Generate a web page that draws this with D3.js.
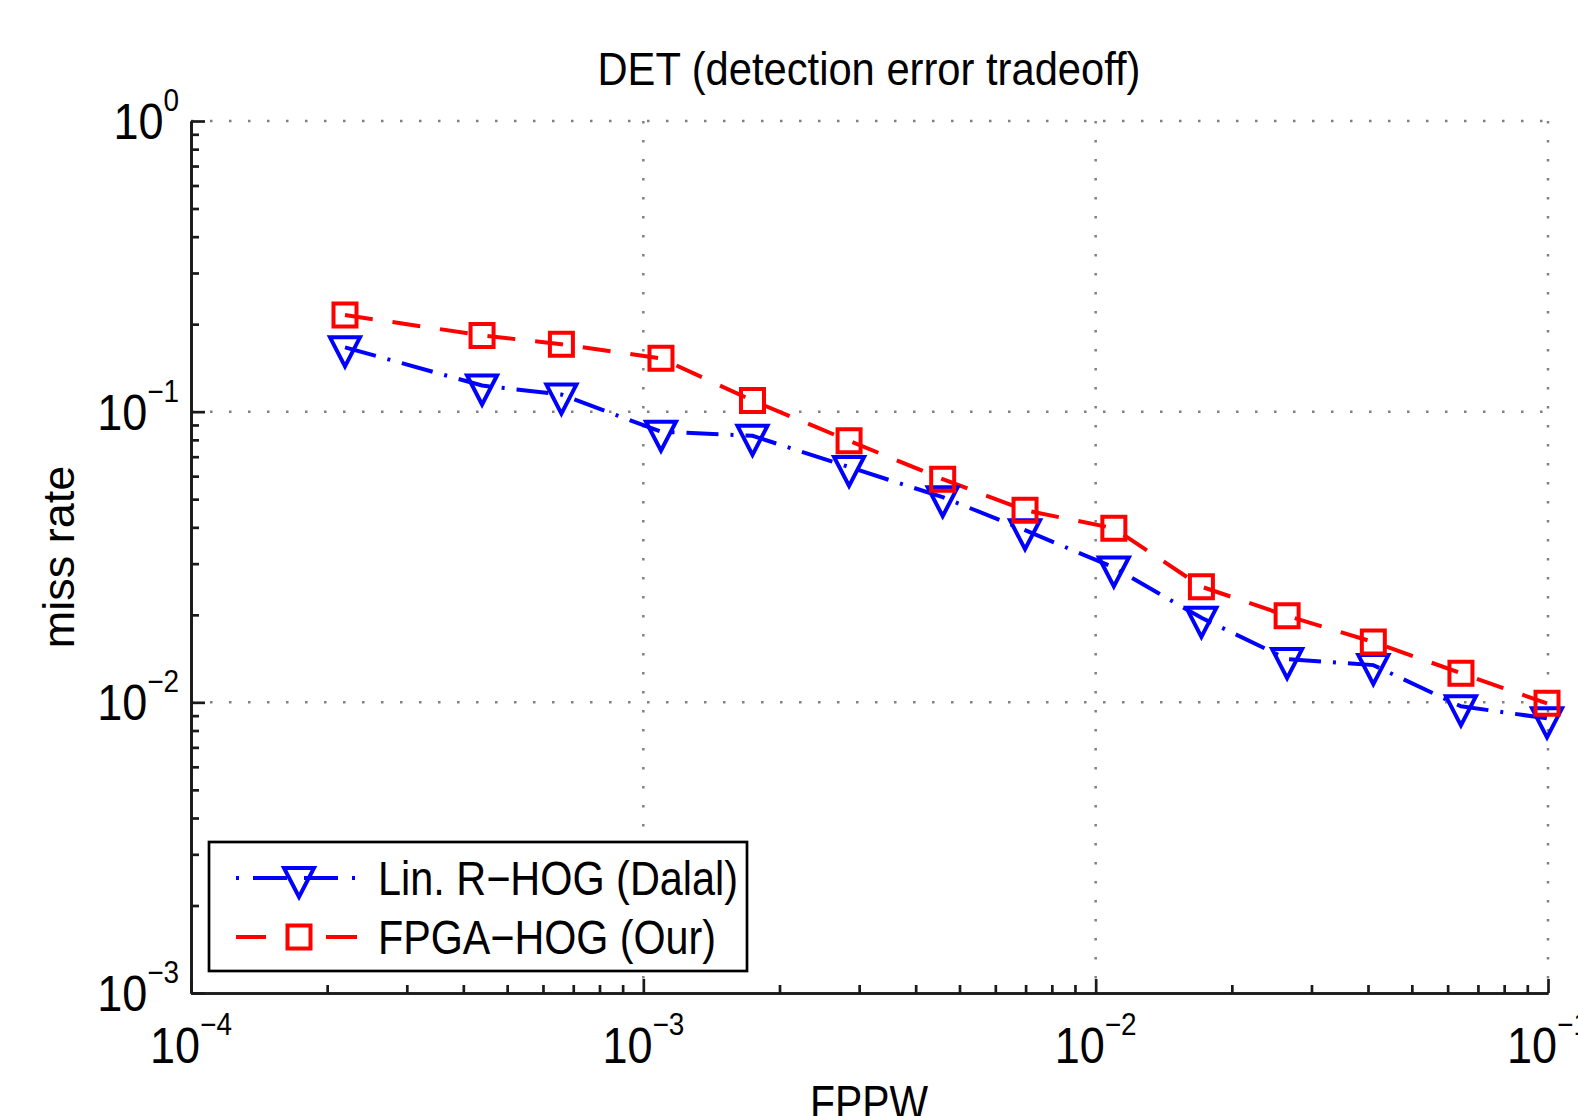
<!DOCTYPE html>
<html lang="en">
    <head>
        <meta charset="utf-8">
        <title>DET</title>
        <script src="https://d3js.org/d3.v7.min.js"></script>
        <style type="text/css">
            body { margin: 0; background: #fff; }
            text { font-family: "Liberation Sans", Arial, Helvetica, sans-serif; fill: #000; }
        </style>
    </head>
    <body>
        <script>
            // data
            var fppw = [2.19e-4, 4.40e-4, 6.59e-4, 1.094e-3, 1.743e-3, 2.85e-3, 4.59e-3,
                        6.98e-3, 1.097e-2, 1.713e-2, 2.65e-2, 4.11e-2, 6.42e-2, 0.0995];
            var missDalal = [0.1665, 0.123, 0.1145, 0.0853, 0.0826, 0.0645, 0.0508,
                             0.0391, 0.0291, 0.01953, 0.01409, 0.01343, 0.00969, 0.00881];
            var missOur = [0.215, 0.183, 0.1705, 0.1526, 0.1092, 0.0794, 0.0586,
                           0.0458, 0.0397, 0.0250, 0.01984, 0.01613, 0.0126, 0.00992];
            var xTickExp = [-4, -3, -2, -1];
            var yTickExp = [0, -1, -2, -3];
            var seriesNames = ["Lin. R\u2212HOG (Dalal)", "FPGA\u2212HOG (Our)"];

            // configuration
            var outerWidth = 1578;
            var outerHeight = 1116;
            var margin = { left: 191, top: 121, right: 30, bottom: 123 };
            var innerWidth = outerWidth - margin.left - margin.right;
            var innerHeight = outerHeight - margin.top - margin.bottom;
            var squeeze = 0.9;

            var svg = d3.select("body")
                        .append("svg")
                        .attr("width", outerWidth)
                        .attr("height", outerHeight);

            var g = svg.append("g")
                .attr("transform", "translate(" + margin.left + "," + margin.top + ")");

            var xScale = d3.scaleLog().domain([1e-4, 1e-1]).range([0, innerWidth]);
            var yScale = d3.scaleLog().domain([1e-3, 1]).range([innerHeight, 0]);

            var xMajor = xTickExp.map(function (e) { return Math.pow(10, e); });
            var yMajor = yTickExp.map(function (e) { return Math.pow(10, e); });

            // dotted grid at decades
            g.selectAll(".vgrid").data(xMajor.slice(1)).enter().append("line")
                .attr("x1", function (d) { return xScale(d); })
                .attr("x2", function (d) { return xScale(d); })
                .attr("y1", 0).attr("y2", innerHeight)
                .attr("stroke", "#808080").attr("stroke-width", 2.5)
                .attr("stroke-dasharray", "2.5,16.5");
            g.selectAll(".hgrid").data(yMajor.slice(0, 3)).enter().append("line")
                .attr("x1", 0).attr("x2", innerWidth)
                .attr("y1", function (d) { return yScale(d); })
                .attr("y2", function (d) { return yScale(d); })
                .attr("stroke", "#808080").attr("stroke-width", 2.5)
                .attr("stroke-dasharray", "2.5,16.5");

            // axes, ticks pointing inward
            var xMinor = xScale.ticks().filter(function (d) { return xMajor.indexOf(d) < 0; });
            var yMinor = yScale.ticks().filter(function (d) { return yMajor.indexOf(d) < 0; });

            function styleAxis(a) {
                a.selectAll("path, line").attr("stroke", "#1a1a1a").attr("stroke-width", 2.7);
                a.selectAll("text").remove();
            }

            g.append("g").attr("transform", "translate(0," + innerHeight + ")")
                .call(d3.axisBottom(xScale).tickValues(xMajor).tickSize(-14).tickSizeOuter(0))
                .call(styleAxis);
            g.append("g").attr("transform", "translate(0," + innerHeight + ")")
                .call(d3.axisBottom(xScale).tickValues(xMinor).tickSize(-8).tickSizeOuter(0))
                .call(styleAxis);
            g.append("g")
                .call(d3.axisLeft(yScale).tickValues(yMajor).tickSize(-14).tickSizeOuter(0))
                .call(styleAxis);
            g.append("g")
                .call(d3.axisLeft(yScale).tickValues(yMinor).tickSize(-8).tickSizeOuter(0))
                .call(styleAxis);

            // tick labels 10^n
            function powerLabel(parent, x, y, exp, anchor) {
                var t = parent.append("text")
                    .attr("transform", "translate(" + x + "," + y + ") scale(" + squeeze + ",1)")
                    .attr("text-anchor", anchor)
                    .style("font-size", "50px");
                t.append("tspan").text("10");
                t.append("tspan").attr("dy", -28).style("font-size", "31px")
                    .text(exp === 0 ? "0" : "\u2212" + Math.abs(exp));
            }
            xTickExp.forEach(function (e) {
                powerLabel(g, xScale(Math.pow(10, e)), innerHeight + 70, e, "middle");
            });
            yTickExp.forEach(function (e) {
                powerLabel(g, -12, yScale(Math.pow(10, e)) + 18, e, "end");
            });

            // title and axis labels
            svg.append("text")
                .attr("x", 869).attr("y", 85)
                .attr("text-anchor", "middle")
                .attr("textLength", 543).attr("lengthAdjust", "spacingAndGlyphs")
                .style("font-size", "46px")
                .text("DET (detection error tradeoff)");
            svg.append("text")
                .attr("x", 869).attr("y", 1119)
                .attr("text-anchor", "middle")
                .attr("textLength", 118).attr("lengthAdjust", "spacingAndGlyphs")
                .style("font-size", "48px")
                .text("FPPW");
            svg.append("text")
                .attr("transform", "translate(74,557) rotate(-90)")
                .attr("text-anchor", "middle")
                .style("font-size", "45px")
                .text("miss rate");

            // series
            var line = d3.line()
                .x(function (d) { return xScale(d[0]); })
                .y(function (d) { return yScale(d[1]); });

            var dalal = fppw.map(function (f, i) { return [f, missDalal[i]]; });
            var our = fppw.map(function (f, i) { return [f, missOur[i]]; });

            var triPath = "M-15,-10L15,-10L0,19Z";
            var sqPath = "M-11.5,-11.5H11.5V11.5H-11.5Z";

            g.append("path").datum(dalal).attr("d", line)
                .attr("fill", "none").attr("stroke", "#0000ff").attr("stroke-width", 4)
                .attr("stroke-dasharray", "32,12,3,12");
            g.append("path").datum(our).attr("d", line)
                .attr("fill", "none").attr("stroke", "#ff0000").attr("stroke-width", 4)
                .attr("stroke-dasharray", "28,20");

            g.selectAll(".tri").data(dalal).enter().append("path")
                .attr("transform", function (d) { return "translate(" + xScale(d[0]) + "," + yScale(d[1]) + ")"; })
                .attr("d", triPath)
                .attr("fill", "none").attr("stroke", "#0000ff").attr("stroke-width", 4);
            g.selectAll(".sq").data(our).enter().append("path")
                .attr("transform", function (d) { return "translate(" + xScale(d[0]) + "," + yScale(d[1]) + ")"; })
                .attr("d", sqPath)
                .attr("fill", "none").attr("stroke", "#ff0000").attr("stroke-width", 4);

            // legend
            var legend = svg.append("g");
            legend.append("rect")
                .attr("x", 209).attr("y", 842).attr("width", 538).attr("height", 129)
                .attr("fill", "#fff").attr("stroke", "#000").attr("stroke-width", 2.7);

            var rowY = [878, 937];
            legend.append("line")
                .attr("x1", 236).attr("x2", 357).attr("y1", rowY[0]).attr("y2", rowY[0])
                .attr("stroke", "#0000ff").attr("stroke-width", 4)
                .attr("stroke-dasharray", "3,14,34,17,34,14,3");
            legend.append("path")
                .attr("transform", "translate(299," + rowY[0] + ")")
                .attr("d", triPath)
                .attr("fill", "none").attr("stroke", "#0000ff").attr("stroke-width", 4);
            legend.append("line")
                .attr("x1", 236).attr("x2", 357).attr("y1", rowY[1]).attr("y2", rowY[1])
                .attr("stroke", "#ff0000").attr("stroke-width", 4)
                .attr("stroke-dasharray", "30,60,31");
            legend.append("path")
                .attr("transform", "translate(299," + rowY[1] + ")")
                .attr("d", sqPath)
                .attr("fill", "none").attr("stroke", "#ff0000").attr("stroke-width", 4);

            legend.selectAll(".lab").data(seriesNames).enter().append("text")
                .attr("x", 378)
                .attr("y", function (d, i) { return rowY[i] + 17; })
                .attr("textLength", function (d, i) { return i === 0 ? 360 : 338; })
                .attr("lengthAdjust", "spacingAndGlyphs")
                .style("font-size", "48px")
                .text(function (d) { return d; });
        </script>
    </body>
</html>
